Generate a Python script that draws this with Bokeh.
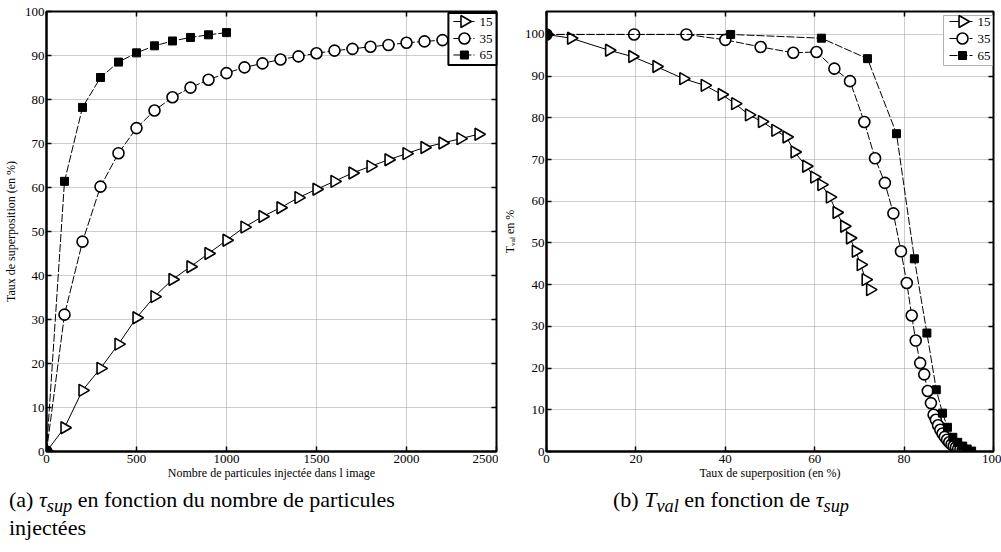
import math
from bokeh.plotting import figure
from bokeh.models import LinearAxis, FixedTicker, Div, Range1d
from bokeh.core.properties import value
from bokeh.layouts import column, row
from bokeh.embed import file_html
from bokeh.resources import INLINE

# ---------------- data: panel (a) ----------------
n_injected = [0, 100, 200, 300, 400, 500, 600, 700, 800, 900, 1000, 1100, 1200,
              1300, 1400, 1500, 1600, 1700, 1800, 1900, 2000, 2100, 2200, 2300, 2400]
tau_15 = [0, 5.4, 13.9, 18.9, 24.4, 30.4, 35.2, 39.1, 42.0, 45.0, 48.0, 51.0, 53.4,
          55.4, 57.7, 59.6, 61.4, 63.3, 64.8, 66.3, 67.7, 69.1, 70.1, 71.1, 72.1]
n_injected_35 = [0, 100, 200, 300, 400, 500, 600, 700, 800, 900, 1000, 1100, 1200,
                 1300, 1400, 1500, 1600, 1700, 1800, 1900, 2000, 2100, 2200]
tau_35 = [0, 31.1, 47.7, 60.2, 67.8, 73.5, 77.5, 80.5, 82.7, 84.5, 86.0, 87.3, 88.2,
          89.1, 89.8, 90.5, 91.1, 91.5, 92.0, 92.4, 92.9, 93.2, 93.5]
n_injected_65 = [0, 100, 200, 300, 400, 500, 600, 700, 800, 900, 1000]
tau_65 = [0, 61.4, 78.2, 85.0, 88.5, 90.6, 92.2, 93.3, 94.1, 94.7, 95.2]

# ---------------- data: panel (b) ----------------
b_x_15 = [0, 5.5, 14.0, 19.2, 24.6, 30.6, 35.4, 39.2, 42.2, 45.3, 48.2, 51.2, 53.7,
          55.5, 58.1, 59.9, 61.5, 63.4, 64.9, 66.6, 67.9, 69.2, 70.3, 71.4, 72.4]
b_y_15 = [100, 99.1, 96.2, 94.7, 92.3, 89.4, 87.8, 85.6, 83.4, 80.7, 79.1, 77.0, 75.4,
          71.8, 68.4, 65.8, 64.0, 61.0, 57.3, 54.0, 51.2, 48.0, 44.8, 41.2, 38.8]
b_x_35 = [0, 19.6, 31.3, 40.0, 47.9, 55.2, 60.4, 64.4, 67.9, 71.1, 73.5, 75.7, 77.6,
          79.3, 80.6, 81.7, 82.6, 83.6, 84.5, 85.3, 86.0, 86.6, 87.1, 87.6, 88.1,
          88.6, 89.1, 89.6, 90.1, 90.6, 91.1, 91.6, 92.1, 92.6, 93.1, 93.6, 94.1]
b_y_35 = [100, 100, 100, 98.7, 97.0, 95.6, 95.8, 91.8, 88.8, 79.0, 70.3, 64.4, 57.1,
          48.0, 40.4, 32.6, 26.6, 21.2, 18.5, 14.5, 11.6, 8.8, 7.6, 6.3, 5.2,
          4.3, 3.5, 2.8, 2.2, 1.7, 1.3, 1.0, 0.7, 0.5, 0.3, 0.2, 0.1]
b_x_65 = [0, 41.2, 61.5, 71.8, 78.3, 82.3, 85.1, 87.2, 88.6, 89.7, 90.9, 92.0, 93.1, 94.1, 95.1]
b_y_65 = [100, 100, 99.1, 94.2, 76.2, 46.2, 28.4, 14.8, 9.2, 5.8, 3.4, 2.2, 1.3, 0.6, 0.1]

series_labels = ["15", "35", "65"]

# ---------------- ticks ----------------
a_x_ticks = [0, 500, 1000, 1500, 2000, 2500]
a_y_ticks = [0, 10, 20, 30, 40, 50, 60, 70, 80, 90, 100]
b_x_ticks = [0, 20, 40, 60, 80, 100]
b_y_ticks = [0, 10, 20, 30, 40, 50, 60, 70, 80, 90, 100]

# ---------------- texts ----------------
a_xlabel = "Nombre de particules injectée dans l image"
a_ylabel = "Taux de superposition (en %)"
b_xlabel = "Taux de superposition (en %)"
b_ylabel = "T\u1d65\u2090\u2097 en %"
caption_a = "(a) <i>&tau;<sub style='line-height:0'>sup</sub></i> en fonction du nombre de particules<br>injectées"
caption_b = "(b) <i>T<sub style='line-height:0'>val</sub></i> en fonction de <i>&tau;<sub style='line-height:0'>sup</sub></i>"

SERIF = "Liberation Serif"
MARKERS = [dict(marker="triangle", size=12, angle=-math.pi / 2, fill_color="white",
                line_color="black", line_width=1.6),
           dict(marker="circle", size=11, fill_color="white", line_color="black",
                line_width=1.6),
           dict(marker="square", size=8, fill_color="black", line_color="black",
                line_width=1)]
DASHES = ["solid", "8 2", "8 2"]


def style(p, xt, yt, ylabel_standoff):
    p.outline_line_color = "black"
    p.outline_line_width = 2
    p.background_fill_color = "white"
    p.border_fill_color = "white"
    for ax, tk in ((p.xaxis, xt), (p.yaxis, yt)):
        ax.ticker = FixedTicker(ticks=tk)
        ax.major_tick_in = 5
        ax.major_tick_out = 0
        ax.minor_tick_line_color = None
        ax.axis_line_width = 2
        ax.axis_line_color = "black"
        ax.major_tick_line_color = "black"
        ax.major_tick_line_width = 1.5
        ax.major_label_text_font = SERIF
        ax.major_label_text_font_size = "13px"
        ax.major_label_text_color = "black"
        ax.axis_label_text_font = SERIF
        ax.axis_label_text_font_size = "12px"
        ax.axis_label_text_font_style = "normal"
        ax.axis_label_text_color = "black"
    p.xaxis.major_label_standoff = 3
    p.xaxis.axis_label_standoff = 0
    p.yaxis.major_label_standoff = 2
    p.yaxis.axis_label_standoff = ylabel_standoff
    p.xgrid.ticker = FixedTicker(ticks=xt)
    p.ygrid.ticker = FixedTicker(ticks=yt)
    for g in (p.xgrid, p.ygrid):
        g.grid_line_color = "#9a9a9a"
        g.grid_line_dash = "1 1"
        g.grid_line_width = 1
    # mirrored inward ticks on top and right (labels not drawn)
    for loc, tk in (("above", xt), ("right", yt)):
        ax = LinearAxis(ticker=FixedTicker(ticks=tk), major_tick_in=5, major_tick_out=0,
                        major_label_text_color=None, major_label_text_font_size="0px",
                        major_label_standoff=0,
                        axis_line_color=None, minor_tick_line_color=None,
                        major_tick_line_width=1.5, major_tick_line_color="black")
        p.add_layout(ax, loc)


def draw(p, xs, ys):
    for i, (x, y) in enumerate(zip(xs, ys)):
        p.line(x, y, line_color="black", line_width=1, line_dash=DASHES[i])
        p.scatter(x, y, **MARKERS[i])


def manual_legend(p, fw, fh, box, rows_y, line_x, mark_x, label_x, border_color, border_width):
    # legend drawn in a pixel-sized helper range anchored at the frame's top-right corner
    p.extra_x_ranges = {"lg_x": Range1d(-fw, 0)}
    p.extra_y_ranges = {"lg_y": Range1d(-fh, 0)}
    kw = dict(x_range_name="lg_x", y_range_name="lg_y")
    p.quad(left=[box[0]], right=[box[1]], top=[box[2]], bottom=[box[3]],
           fill_color="white", line_color=border_color, line_width=border_width,
           level="annotation", **kw)
    for i, lab in enumerate(series_labels):
        yy = rows_y[i]
        p.line([line_x[0], line_x[1]], [yy, yy], line_color="black", line_width=1,
               line_dash=DASHES[i], level="overlay", **kw)
        p.scatter([mark_x], [yy], level="overlay", **MARKERS[i], **kw)
        p.text([label_x], [yy], text=[lab], text_font=value(SERIF), text_font_size="13px",
               text_baseline="middle", text_align="left", text_color="black",
               level="overlay", **kw)


pa = figure(width=498, height=485, x_range=Range1d(0, 2500), y_range=Range1d(0, 100),
            output_backend="svg", toolbar_location=None,
            min_border_left=46, min_border_right=2, min_border_top=11, min_border_bottom=34,
            x_axis_label=a_xlabel, y_axis_label=a_ylabel)
style(pa, a_x_ticks, a_y_ticks, 4)
draw(pa, [n_injected, n_injected_35, n_injected_65], [tau_15, tau_35, tau_65])
manual_legend(pa, 449, 440, (-48, 0, -1.5, -53.5), (-10, -27, -43.5), (-43, -22), -32, -17,
              "black", 2)

pb = figure(width=503, height=485, x_range=Range1d(0, 100), y_range=Range1d(0, 105.5),
            output_backend="svg", toolbar_location=None,
            min_border_left=48, min_border_right=8, min_border_top=11, min_border_bottom=34,
            x_axis_label=b_xlabel, y_axis_label=b_ylabel)
style(pb, b_x_ticks, b_y_ticks, 5)
draw(pb, [b_x_15, b_x_35, b_x_65], [b_y_15, b_y_35, b_y_65])
manual_legend(pb, 447, 440, (-50, -1, -4, -54), (-10, -27, -44), (-44, -21), -31, -16,
              "#b0b0b0", 1)

font_css = "font-family:'Liberation Serif',serif;font-size:22px;line-height:28px;color:black;"
caption_html = (
    f'<div style="position:relative;width:1001px;height:62px;{font_css}">'
    f'<div style="position:absolute;left:4px;top:-4px;white-space:nowrap;">{caption_a}</div>'
    f'<div style="position:absolute;left:608px;top:-4px;white-space:nowrap;">{caption_b}</div>'
    '</div>'
)
captions = Div(text=caption_html, width=1001, height=62)

layout = column(row(pa, pb), captions)
open("out.html", "w").write(file_html(layout, INLINE))
